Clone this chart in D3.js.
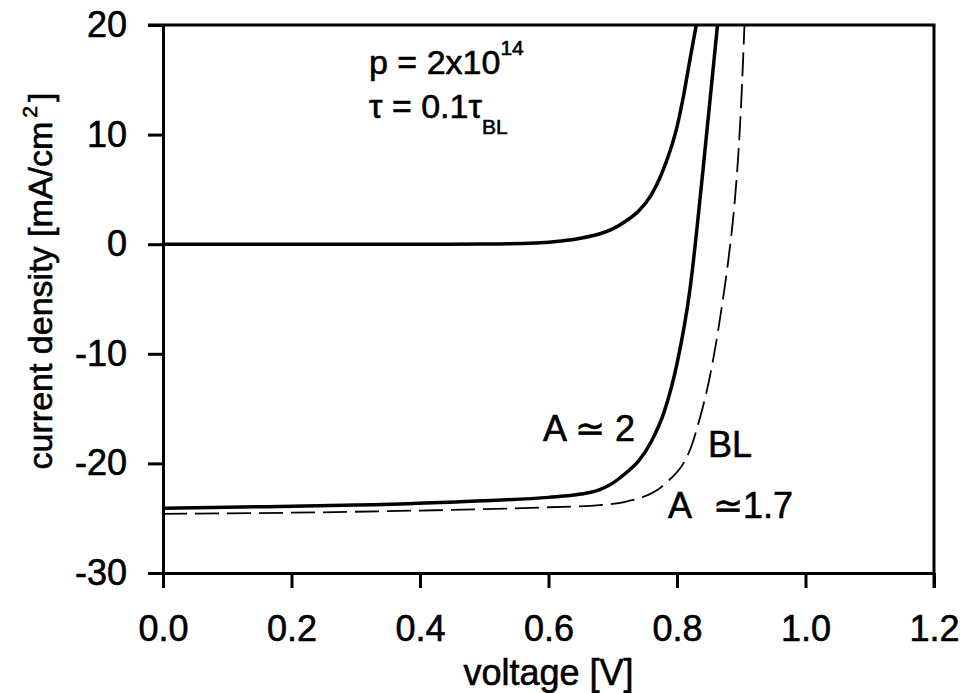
<!DOCTYPE html>
<html>
<head>
<meta charset="utf-8">
<script src="https://cdn.jsdelivr.net/npm/d3@7"></script>
<style>
  html, body { margin: 0; padding: 0; background: #fff; }
  svg text { font-family: "Liberation Sans", Arial, sans-serif; fill: #000; stroke: #000; stroke-width: 0.6px; }
</style>
</head>
<body>
<div id="chart"></div>
<script>
// axis setup
const xTicks = [0.0, 0.2, 0.4, 0.6, 0.8, 1.0, 1.2];
const yTicks = [20, 10, 0, -10, -20, -30];

// upper solid curve (p = 2x10^14, tau = 0.1 tau_BL, no illumination)
const upperV = [0.00, 0.20, 0.40, 0.50, 0.58, 0.62, 0.65, 0.68, 0.70, 0.72, 0.74, 0.76, 0.78, 0.80, 0.81, 0.82, 0.83];
const upperJ = [0.0, 0.0, 0.0, 0.02, 0.12, 0.3, 0.55, 0.95, 1.4, 2.1, 3.0, 4.5, 7.0, 10.7, 13.5, 16.8, 20.0];

// middle solid curve (A ~ 2)
const midV = [0.00, 0.10, 0.30, 0.50, 0.60, 0.65, 0.68, 0.70, 0.72, 0.74, 0.76, 0.78, 0.80, 0.82, 0.84, 0.86, 0.863];
const midJ = [-24.1, -24.0, -23.8, -23.4, -23.1, -22.8, -22.4, -21.8, -20.9, -19.8, -18.0, -15.3, -10.9, -4.2, 6.5, 18.2, 20.0];

// dashed curve (BL, A ~ 1.7)
const blV = [0.00, 0.20, 0.40, 0.60, 0.68, 0.72, 0.75, 0.77, 0.79, 0.81, 0.82, 0.835, 0.85, 0.86, 0.87, 0.88, 0.89, 0.895, 0.90, 0.905];
const blJ = [-24.6, -24.5, -24.3, -24.0, -23.8, -23.5, -23.0, -22.4, -21.4, -20.0, -18.8, -16.0, -12.4, -9.3, -5.6, -1.4, 4.0, 7.8, 13.0, 20.0];

const W = 966, H = 693;
const margin = { left: 163, right: 32, top: 25, bottom: 120 };

const svg = d3.select('#chart').append('svg')
  .attr('width', W)
  .attr('height', H);

const x = d3.scaleLinear().domain([0, 1.2]).range([margin.left, W - margin.right]);
const y = d3.scaleLinear().domain([-30, 20]).range([H - margin.bottom, margin.top]);

svg.append('clipPath').attr('id', 'plot-clip')
  .append('rect')
  .attr('x', x(0)).attr('y', y(20))
  .attr('width', x(1.2) - x(0)).attr('height', y(-30) - y(20));

// frame: top and right borders
svg.append('path')
  .attr('d', `M${x(0) - 15},${y(20)}H${x(1.2)}V${y(-30) + 15}`)
  .attr('fill', 'none')
  .attr('stroke', '#000')
  .attr('stroke-width', 3);

// axes
const fmtY = d => String(d).replace('\u2212', '-');
const yAxis = svg.append('g')
  .attr('transform', `translate(${x(0)},0)`)
  .call(d3.axisLeft(y).tickValues(yTicks).tickSize(15).tickSizeOuter(0).tickPadding(21).tickFormat(fmtY));

const xAxis = svg.append('g')
  .attr('transform', `translate(0,${y(-30)})`)
  .call(d3.axisBottom(x).tickValues(xTicks).tickSize(15).tickSizeOuter(0).tickPadding(27).tickFormat(d3.format('.1f')));

[xAxis, yAxis].forEach(g => {
  g.select('.domain').attr('stroke-width', 3);
  g.selectAll('.tick line').attr('stroke-width', 3);
  g.selectAll('.tick text')
    .attr('font-size', 36)
    .attr('font-family', '"Liberation Sans", Arial, sans-serif')
    .attr('fill', '#000');
});

// curves
const line = d3.line()
  .x(d => x(d[0]))
  .y(d => y(d[1]))
  .curve(d3.curveMonotoneX);

const plot = svg.append('g').attr('clip-path', 'url(#plot-clip)');

plot.append('path')
  .datum(d3.zip(upperV, upperJ))
  .attr('d', line)
  .attr('fill', 'none')
  .attr('stroke', '#000')
  .attr('stroke-width', 3.5);

plot.append('path')
  .datum(d3.zip(midV, midJ))
  .attr('d', line)
  .attr('fill', 'none')
  .attr('stroke', '#000')
  .attr('stroke-width', 3.5);

plot.append('path')
  .datum(d3.zip(blV, blJ))
  .attr('d', line)
  .attr('fill', 'none')
  .attr('stroke', '#000')
  .attr('stroke-width', 1.8)
  .attr('stroke-dasharray', '24,8');

// axis titles
svg.append('text')
  .attr('x', (x(0) + x(1.2)) / 2)
  .attr('y', 685)
  .attr('text-anchor', 'middle')
  .attr('font-size', 36)
  .text('voltage [V]');

const yTitle = svg.append('text')
  .attr('transform', 'translate(52,281) rotate(-90)')
  .attr('text-anchor', 'middle')
  .attr('font-size', 34);
yTitle.append('tspan').text('current density [mA/cm');
yTitle.append('tspan').attr('dx', 4).attr('dy', -15).attr('font-size', 21).text('2');
yTitle.append('tspan').attr('dx', 4).attr('dy', 15).text(']');

// annotations
const p = svg.append('text').attr('x', 369).attr('y', 74).attr('font-size', 34);
p.append('tspan').text('p = 2x10');
p.append('tspan').attr('dy', -19).attr('font-size', 21).text('14');

const tau = svg.append('text').attr('x', 369).attr('y', 118).attr('font-size', 34);
tau.append('tspan').text('\u03c4 = 0.1\u03c4');
tau.append('tspan').attr('dy', 16).attr('font-size', 21).text('BL');

svg.append('text').attr('x', 543).attr('y', 441).attr('font-size', 36).text('A \u2243 2');
svg.append('text').attr('x', 708).attr('y', 457).attr('font-size', 36).text('BL');
svg.append('text').attr('x', 668).attr('y', 518).attr('font-size', 36).text('A');
svg.append('text').attr('x', 713).attr('y', 518).attr('font-size', 36).text('\u22431.7');
</script>
</body>
</html>
